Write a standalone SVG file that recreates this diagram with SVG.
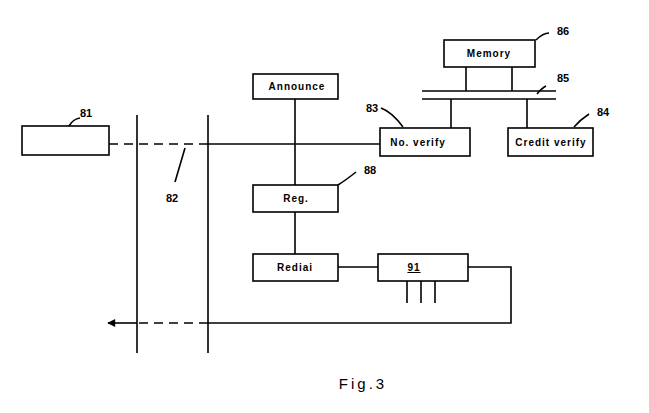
<svg xmlns="http://www.w3.org/2000/svg" width="649" height="413" viewBox="0 0 649 413">
<style>
.b{fill:#fff;stroke:#000;stroke-width:1.6}
.l{fill:none;stroke:#000;stroke-width:1.6}
.d{fill:none;stroke:#000;stroke-width:1.6;stroke-dasharray:9,6}
.t{font-family:"Liberation Sans",Arial,sans-serif;font-size:10px;font-weight:bold;text-anchor:middle;letter-spacing:1px}
.n{font-family:"Liberation Sans",Arial,sans-serif;font-size:11px;font-weight:bold;text-anchor:middle}
</style>
<defs><marker id="ah" viewBox="0 0 10 10" refX="9" refY="5" markerWidth="6" markerHeight="5" orient="auto"><path d="M0 0 L10 5 L0 10 Z" fill="#000"/></marker></defs>
<rect width="649" height="413" fill="#fff"/>
<g id="connectors">
<line class="l" x1="137" y1="115" x2="137" y2="353"/>
<line class="l" x1="208" y1="115" x2="208" y2="353"/>
<line class="d" x1="109" y1="144" x2="208" y2="144"/>
<line class="l" x1="208" y1="144" x2="380" y2="144"/>
<line class="l" x1="295" y1="99" x2="295" y2="185"/>
<line class="l" x1="295" y1="212" x2="295" y2="254"/>
<line class="l" x1="422" y1="91" x2="556" y2="91"/>
<line class="l" x1="422" y1="99" x2="556" y2="99"/>
<line class="l" x1="466" y1="67" x2="466" y2="91"/>
<line class="l" x1="512" y1="67" x2="512" y2="91"/>
<line class="l" x1="451" y1="99" x2="451" y2="128"/>
<line class="l" x1="527" y1="99" x2="527" y2="128"/>
<line class="l" x1="338" y1="267" x2="378" y2="267"/>
<polyline class="l" points="468,267 511,267 511,323 208,323"/>
<line class="d" x1="208" y1="323" x2="137" y2="323"/>
<line class="l" x1="137" y1="323" x2="108" y2="323" marker-end="url(#ah)"/>
<line class="l" x1="407" y1="281" x2="407" y2="303"/>
<line class="l" x1="421" y1="281" x2="421" y2="303"/>
<line class="l" x1="435" y1="281" x2="435" y2="303"/>
<path class="l" d="M175 182 L185 148"/>
<path class="l" d="M69 126 Q73 119 80 118"/>
<path class="l" d="M338 185 Q346 180 356 172"/>
<path class="l" d="M381 108 Q392 112 403 127"/>
<path class="l" d="M536 40 Q543 33 549 33"/>
<path class="l" d="M537 94 Q542 88 546 86"/>
<path class="l" d="M574 127 Q580 120 589 114"/>
</g>
<g id="n81"><rect class="b" x="22" y="126" width="87" height="29"/><text class="n" x="86" y="117">81</text></g>
<text class="n" x="172" y="202">82</text>
<g id="announce"><rect class="b" x="253" y="74" width="85" height="25"/><text class="t" x="297" y="90">Announce</text></g>
<g id="reg"><rect class="b" x="253" y="185" width="85" height="27"/><text class="t" x="296" y="202">Reg.</text><text class="n" x="370" y="174">88</text></g>
<g id="rediai"><rect class="b" x="253" y="254" width="85" height="27"/><text class="t" x="295" y="271">Rediai</text></g>
<g id="n91"><rect class="b" x="378" y="254" width="90" height="27"/><text class="t" x="414" y="271" text-decoration="underline">91</text></g>
<g id="noverify"><rect class="b" x="380" y="128" width="90" height="28"/><text class="t" x="418" y="146">No. verify</text><text class="n" x="372" y="112">83</text></g>
<g id="credit"><rect class="b" x="508" y="128" width="85" height="28"/><text class="t" x="551" y="146">Credit verify</text><text class="n" x="603" y="116">84</text></g>
<g id="memory"><rect class="b" x="444" y="40" width="91" height="27"/><text class="t" x="489" y="57">Memory</text><text class="n" x="563" y="35">86</text></g>
<text class="n" x="563" y="82">85</text>
<text class="n" x="363" y="389" style="font-size:15px;font-weight:normal;letter-spacing:3px">Fig.3</text>
</svg>
